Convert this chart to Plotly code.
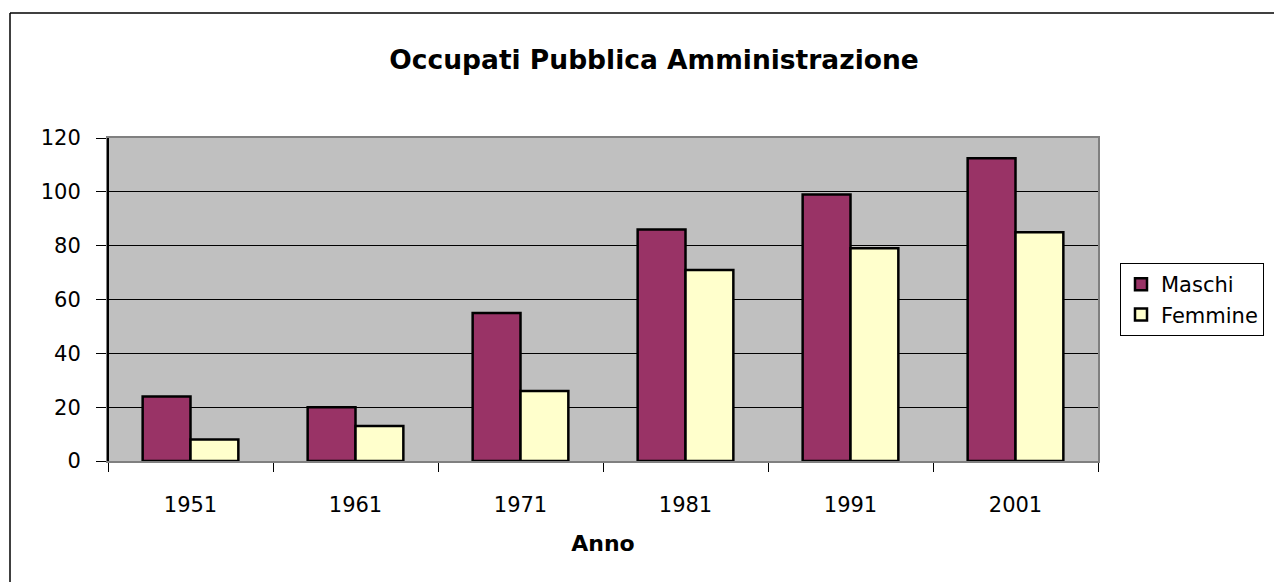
import plotly.graph_objects as go

anni = ["1951", "1961", "1971", "1981", "1991", "2001"]
maschi = [24, 20, 55, 86, 99, 112.5]
femmine = [8, 13, 26, 71, 79, 85]

W, H = 1274, 582
L, R, T, B = 108, 176, 138, 121
pw, ph = W - L - R, H - T - B

def px_x(x):
    return (x - L) / pw

def px_y(y):
    return (H - B - y) / ph

font = "DejaVu Sans, Liberation Sans, Arial, sans-serif"

fig = go.Figure()
fig.add_trace(go.Bar(name="Maschi", x=anni, y=maschi,
                     marker=dict(color="#993366", line=dict(color="black", width=2.5))))
fig.add_trace(go.Bar(name="Femmine", x=anni, y=femmine,
                     marker=dict(color="#FFFFCC", line=dict(color="black", width=2.5))))

fig.update_layout(
    width=W, height=H,
    margin=dict(l=L, r=R, t=T, b=B, autoexpand=False),
    paper_bgcolor="white", plot_bgcolor="#C0C0C0",
    barmode="group", bargap=0.42, bargroupgap=0,
    font=dict(family=font, color="black", size=21),
    title=dict(text="<b>Occupati Pubblica Amministrazione</b>", x=654 / W, xanchor="center",
               y=1 - 60 / H, yanchor="middle", font=dict(size=26.5, family=font)),
    legend=dict(x=px_x(1120), y=px_y(263), xanchor="left", yanchor="top",
                bordercolor="black", borderwidth=1, bgcolor="white",
                font=dict(size=21, family=font), tracegroupgap=0, itemwidth=30),
    xaxis=dict(title=dict(text="<b>Anno</b>", font=dict(size=22, family=font), standoff=19),
               showline=True, linecolor="#808080", linewidth=2, mirror=True,
               ticks="outside", tickson="boundaries", tickcolor="black", ticklen=9,
               tickfont=dict(size=21), showgrid=False, ticklabelstandoff=24),
    yaxis=dict(range=[0, 120], dtick=20, showline=True, linecolor="#808080", linewidth=2,
               mirror=True, ticks="outside", tickcolor="black", ticklen=10,
               tickfont=dict(size=21), showgrid=True, gridcolor="black", gridwidth=1,
               zeroline=False, ticklabelstandoff=11),
    shapes=[
        dict(type="line", xref="paper", yref="paper", x0=0, x1=0, y0=0, y1=1,
             line=dict(color="black", width=2)),
        dict(type="line", xref="paper", yref="paper", x0=px_x(10), x1=px_x(1290),
             y0=px_y(13), y1=px_y(13), line=dict(color="black", width=1.5)),
        dict(type="line", xref="paper", yref="paper", x0=px_x(10), x1=px_x(10),
             y0=px_y(13), y1=px_y(600), line=dict(color="black", width=1.5)),
    ],
)

fig.write_html("out.html", config={"displayModeBar": False},
               post_script="document.body.style.margin='0px';")
